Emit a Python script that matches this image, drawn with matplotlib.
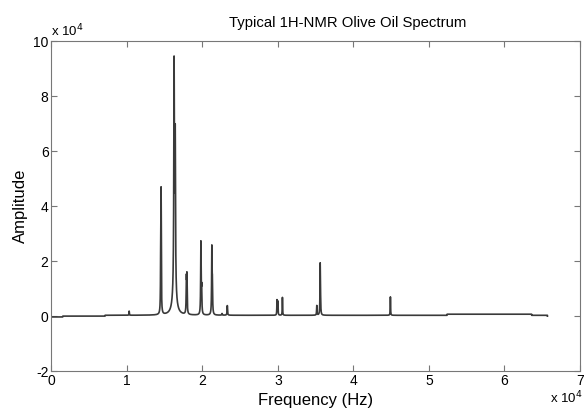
import numpy as np
import matplotlib.pyplot as plt

plt.rcParams['font.family'] = ['Liberation Sans', 'DejaVu Sans']
plt.rcParams['axes.unicode_minus'] = False

# Peak list (position in Hz, height in amplitude units, half width in Hz)
peak_pos = [10300, 14480, 14530, 16250, 16400, 16300, 17880, 17950, 19800, 19900,
            21250, 21320, 22600, 23300, 29880, 30000, 30600, 35150, 35600, 35650, 44900]
peak_height = [1500, 20000, 41000, 81000, 55000, 9000, 12000, 13000, 26000, 9000,
               23500, 10000, 600, 3500, 5500, 5000, 6500, 3500, 18000, 4000, 6700]
peak_width = [25, 30, 30, 45, 45, 260, 35, 35, 35, 35,
              35, 35, 40, 35, 25, 25, 25, 30, 30, 30, 25]

# Baseline offsets between breakpoints (Hz)
base_edges = [0, 1500, 7100, 52400, 63600, 65700]
base_levels = [-300, 0, 300, 700, 300]

freq = np.linspace(0, 65700, 40000)
amp = np.zeros_like(freq)
for p, h, w in zip(peak_pos, peak_height, peak_width):
    amp += h * w**2 / ((freq - p)**2 + w**2)
for i in range(len(base_levels)):
    sel = (freq >= base_edges[i]) & (freq < base_edges[i + 1])
    amp[sel] += base_levels[i]

fig = plt.figure(figsize=(5.84, 4.11), dpi=100)
ax = fig.add_axes([0.088, 0.097, 0.905, 0.803])
ax.plot(freq / 1e4, amp / 1e4, color='#3a3a3a', linewidth=1.2)

ax.set_xlim(0, 7)
ax.set_ylim(-2, 10)
ax.set_xticks(range(0, 8))
ax.set_yticks(range(-2, 11, 2))
ax.tick_params(direction='in', top=True, right=True, labelsize=10, length=4,
               color='#777777', pad=2)
for s in ax.spines.values():
    s.set_color('#777777')

ax.set_xlabel('Frequency (Hz)', fontsize=12, labelpad=4)
ax.set_ylabel('Amplitude', fontsize=12, labelpad=4)
ax.set_title('Typical 1H-NMR Olive Oil Spectrum', fontsize=10.7, x=0.561, pad=10)

# MATLAB-style exponent labels
ax.text(0.0, 1.005, r'x 10$^4$', transform=ax.transAxes, fontsize=9.5, va='bottom')
fig.text(0.997, 0.012, r'x 10$^4$', fontsize=9.5, va='bottom', ha='right')

fig.savefig('out.png', dpi=100)
